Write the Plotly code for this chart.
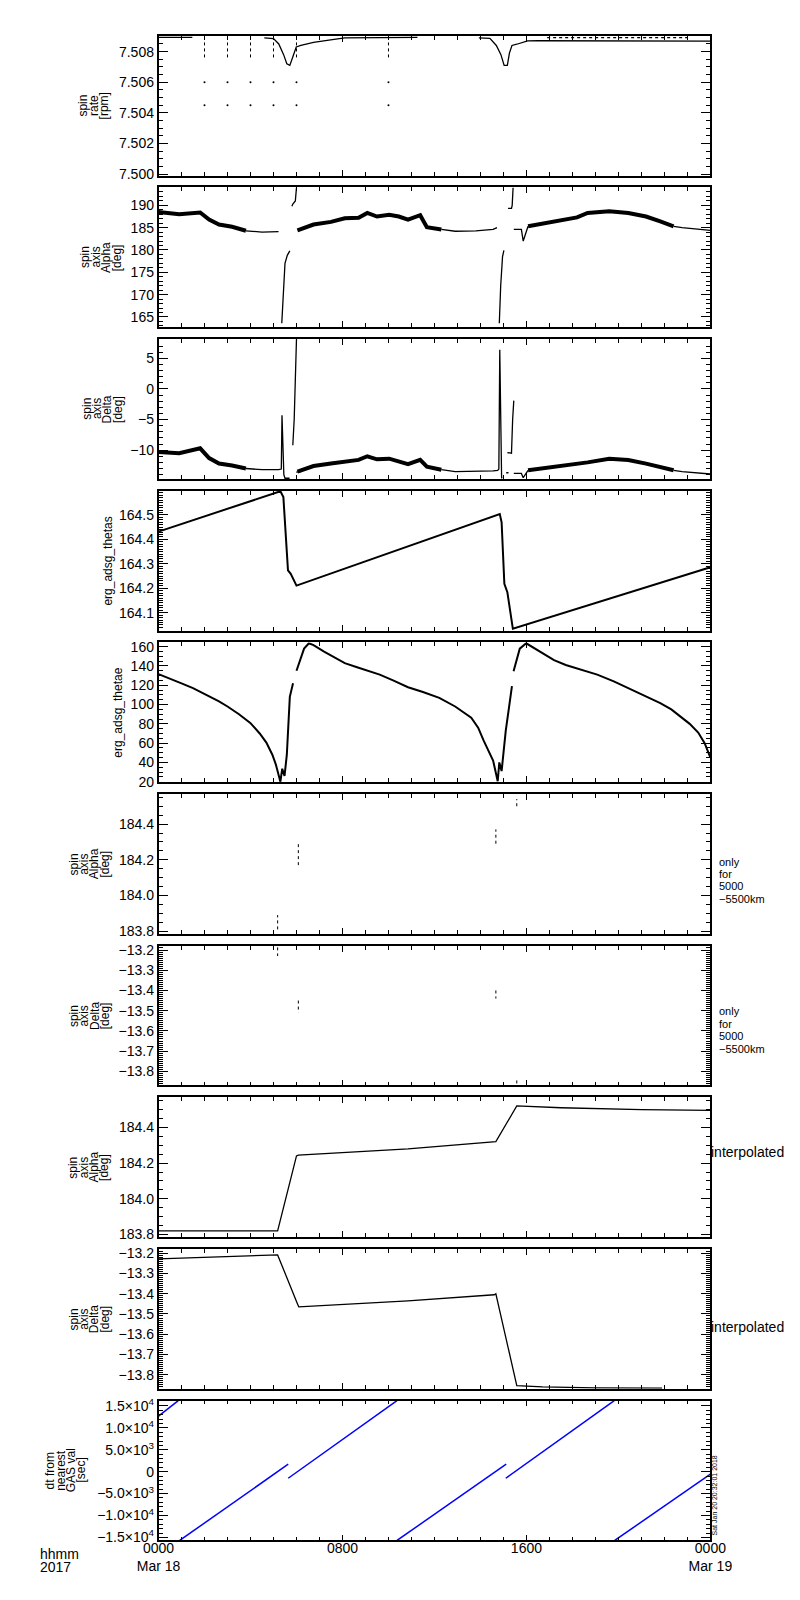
import plotly.graph_objects as go
from plotly.subplots import make_subplots

FONT = "Liberation Sans"
W, H = 800, 1600
LEFT, RIGHT = 136, 720
TOP0, PANEL_H, GAP = 23, 140.8, 12

# ---- data (time in hours since 2017-03-18 00:00 UT) ----

# spin rate [rpm]
rate_h = [0, 1.47, None, 4.6, 5.0, 5.23, 5.44, 5.58, 5.71, 5.85, 5.99, 6.19, 6.74, 7.56, 8.1, 11.26,
          None, 13.93, 14.41, 14.69, 14.89, 15.03, 15.17, 15.26, 15.37, 15.58, 15.85, 16.05, 16.5, 24]
rate_v = [7.50893, 7.50893, None, 7.50890, 7.50885, 7.50850, 7.50780, 7.50720, 7.50710, 7.50770,
          7.50830, 7.50840, 7.50860, 7.50878, 7.50890, 7.50893, None, 7.50890, 7.50886, 7.50840,
          7.50780, 7.50710, 7.50710, 7.50790, 7.50840, 7.50848, 7.50860, 7.50870, 7.50871, 7.50868]
rate_upper_h = [16.9, 23.0]
rate_upper_v = [7.50891, 7.50891]
spike_h = [2, 3, 4, 5, 6, 10]
spike_top = 7.5086
spike_bot = 7.5075
spike_dots = [7.5060, 7.5045]

# spin axis Alpha [deg]
alpha_band_h = [0, 0.9, 1.81, 2.2, 2.63, 3.2, 3.8, None,
                6.04, 6.74, 7.5, 8.1, 8.7, 9.08, 9.5, 10.03, 10.45, 10.85, 11.38, 11.67, 12.3, None,
                16.07, 16.9, 17.71, 18.2, 18.66, 19.6, 20.43, 21.2, 21.82, 22.4]
alpha_band_v = [188.5, 188.0, 188.4, 186.8, 185.7, 185.2, 184.3, None,
                184.4, 185.7, 186.3, 187.1, 187.2, 188.3, 187.5, 187.9, 187.5, 186.8, 187.8, 185.1, 184.6, None,
                185.3, 186.0, 186.9, 187.3, 188.3, 188.7, 188.3, 187.5, 186.4, 185.3]
alpha_line_h = [3.8, 4.5, 5.22, None, 5.36, 5.42, 5.5, 5.6, 5.71, None, 5.8, 5.84, 5.95, 6.0, None,
                12.3, 12.9, 13.8, 14.55, 14.72, None, 14.82, 14.88, 14.96, 15.02, None,
                15.2, 15.35, 15.38, 15.42, None, 15.45, 15.78, 15.86, 16.07, None, 22.4, 22.77, 24]
alpha_line_v = [184.3, 184.0, 184.1, None, 163.6, 170, 177, 178.8, 179.8, None, 189.8, 190.3, 191, 194, None,
                184.6, 184.2, 184.3, 184.6, 185.0, None, 163.6, 172, 178.5, 179.9, None,
                189.3, 189.3, 190.0, 194, None, 184.6, 184.6, 182.0, 185.3, None, 185.3, 185.0, 184.4]

# spin axis Delta [deg]
delta_band_h = alpha_band_h
delta_band_v = [-10.3, -10.5, -9.7, -11.3, -12.2, -12.5, -13.0, None,
                -13.5, -12.6, -12.2, -11.9, -11.6, -11.0, -11.5, -11.4, -11.9, -12.3, -11.6, -12.7, -13.2, None,
                -13.3, -12.9, -12.5, -12.2, -12.0, -11.4, -11.6, -12.2, -12.7, -13.3]
delta_line_h = [3.8, 4.5, 5.22, 5.34, 5.37, 5.45, 5.5, 5.7, None, 5.84, 5.9, 6.0, None, 5.99, 6.2, None,
                12.3, 12.9, 14.55, 14.75, 14.8, 14.84, 14.92, 14.95, None, 15.12, 15.22, None,
                15.17, 15.35, 15.4, 15.45, None, 15.45, 15.78, 15.86, 16.07, None, 22.4, 22.77, 24]
delta_line_v = [-13.0, -13.2, -13.2, -13.1, -4.3, -14.0, -14.6, -14.6, None, -9.2, -5, 8.2, None, -13.6, -13.5, None,
                -13.2, -13.5, -13.4, -13.3, -13.1, 6.4, -14.5, -14.6, None, -13.7, -13.7, None,
                -10.4, -10.5, -5, -1.9, None, -13.8, -13.8, -14.5, -13.3, None, -13.3, -13.5, -13.9]

# erg_adsg_thetas
thetas_h = [0, 5.3, 5.43, 5.63, 5.75, 5.84, 6.0, 14.84, 14.92, 15.04, 15.17, 15.41, 24]
thetas_v = [164.432, 164.597, 164.573, 164.273, 164.259, 164.239, 164.211, 164.504, 164.47,
            164.218, 164.184, 164.034, 164.286]

# erg_adsg_thetae
thetae_h = [0, 0.5, 1.0, 1.5, 2.0, 2.63, 3.0, 3.5, 3.99, 4.4, 4.69, 4.95, 5.1, 5.2, 5.3, 5.38, 5.48, 5.58,
            5.71, 5.85, None,
            6.0, 6.2, 6.33, 6.54, 6.74, 7.2, 7.6, 8.1, 8.6, 9.1, 9.62, 10.2, 10.85, 11.5, 12.21, 12.9,
            13.6, 13.9, 14.14, 14.55, 14.75, 14.82, 14.92, 15.1, 15.37, None,
            15.44, 15.71, 15.99, 16.3, 16.8, 17.2, 17.71, 18.4, 19.08, 19.8, 20.43, 21.1, 21.82, 22.3,
            22.77, 23.1, 23.47, 23.75, 24]
thetae_v = [131.5, 127, 122, 117, 111, 103.4, 98, 90, 81, 70, 60.5, 48, 38, 30, 20, 33.5, 26, 48,
            108, 122, None,
            135, 150, 158, 163.6, 161.6, 155, 150, 143, 139, 135, 131, 125, 118, 113, 107, 98,
            86.4, 76, 62.5, 42, 20.5, 40, 31, 72.6, 119, None,
            134.5, 158, 163.5, 159, 151, 146, 141, 136, 131, 124, 117, 109.5, 101.5, 95,
            86.4, 80, 71, 60, 45]

# spin axis only for 5000-5500 km
only_h = [5.18, 5.18, None, 6.08, 6.08, None, 14.67, 14.67, None, 15.58, 15.58]
only_alpha = [183.81, 183.89, None, 184.17, 184.29, None, 184.29, 184.37, None, 184.50, 184.54]
only_delta = [-13.187, -13.23, None, -13.45, -13.51, None, -13.40, -13.44, None, -13.845, -13.87]

# interpolated spin axis
interp_alpha_h = [0, 5.18, 6.0, 6.08, 10.85, 14.67, 15.58, 17.5, 21.0, 24]
interp_alpha_v = [183.82, 183.82, 184.24, 184.245, 184.28, 184.32, 184.52, 184.51, 184.50, 184.495]
interp_delta_h = [0, 5.18, 6.04, 6.1, 10.85, 14.6, 14.67, 15.58, 16.7, 19.0, 21.9]
interp_delta_v = [-13.228, -13.208, -13.449, -13.465, -13.435, -13.405, -13.40, -13.854, -13.86, -13.865, -13.867]

# dt from nearest GAS value [sec]
dt_h = [0, 0.86, None, 0.92, 5.64, None, 5.64, 10.37, None, 10.37, 15.12, None, 15.1, 19.82, None, 19.84, 24]
dt_v = [12700, 16200, None, -15700, 1700, None, -1500, 16200, None, -15700, 1700, None, -1500, 16200, None, -15700, -540]

x_tickvals = [0, 8, 16, 24]
x_ticktext = ["0000<br>Mar 18", "0800", "1600", "0000<br>Mar 19"]
dt_tickvals = [-15000, -10000, -5000, 0, 5000, 10000, 15000]
dt_ticktext = ["−1.5×10<sup>4</sup>", "−1.0×10<sup>4</sup>", "−5.0×10<sup>3</sup>", "0",
               "5.0×10<sup>3</sup>", "1.0×10<sup>4</sup>", "1.5×10<sup>4</sup>"]

# ---- figure ----
fig = make_subplots(rows=10, cols=1, shared_xaxes=True)


def line(r, x, y, width=1.3, color="black", dash="solid"):
    fig.add_trace(go.Scatter(x=x, y=y, mode="lines", line=dict(color=color, width=width, dash=dash),
                             connectgaps=False, hoverinfo="skip"), row=r, col=1)


line(1, rate_h, rate_v)
line(1, rate_upper_h, rate_upper_v, dash="dot")
sx, sy = [], []
for h in spike_h:
    sx += [h, h, None]
    sy += [spike_top, spike_bot, None]
line(1, sx, sy, width=1, dash="dot")
fig.add_trace(go.Scatter(x=[h for h in spike_h for _ in spike_dots], y=spike_dots * len(spike_h),
                         mode="markers", marker=dict(color="black", size=2), hoverinfo="skip"), row=1, col=1)

line(2, alpha_band_h, alpha_band_v, width=4)
line(2, alpha_line_h, alpha_line_v, width=1.3)
line(3, delta_band_h, delta_band_v, width=4)
line(3, delta_line_h, delta_line_v, width=1.3)
line(4, thetas_h, thetas_v, width=2)
line(5, thetae_h, thetae_v, width=2)
line(6, only_h, only_alpha, width=1, dash="dot")
line(7, only_h, only_delta, width=1, dash="dot")
line(8, interp_alpha_h, interp_alpha_v)
line(9, interp_delta_h, interp_delta_v)
line(10, dt_h, dt_v, width=1.5, color="blue")

# y axes: range, tick0, dtick, minor dtick, format
y_axes = [
    ([7.4999, 7.50903], 7.5, 0.002, 0.0005, ".3f"),
    ([162.7, 194.0], 0, 5, 1, "d"),
    ([-14.7, 8.15], 0, 5, 1, "d"),
    ([164.027, 164.599], 164.1, 0.1, 0.01, ".1f"),
    ([19.5, 164.4], 0, 20, 5, "d"),
    ([183.785, 184.568], 183.8, 0.2, 0.05, ".1f"),
    ([-13.87, -13.179], -13.8, 0.1, 0.01, ".1f"),
    ([183.785, 184.568], 183.8, 0.2, 0.05, ".1f"),
    ([-13.87, -13.179], -13.8, 0.1, 0.01, ".1f"),
    ([-15700, 16200], 0, 5000, 1000, None),
]

axis_style = dict(showline=True, linecolor="black", linewidth=1.5, mirror="allticks",
                  ticks="inside", tickcolor="black", tickwidth=1, showgrid=False, zeroline=False,
                  tickfont=dict(family=FONT, size=14, color="black"))

for i, (rng, t0, dt, mdt, fmt) in enumerate(y_axes):
    r = i + 1
    top = TOP0 + i * (PANEL_H + GAP)
    bottom = top + PANEL_H
    kw = dict(range=rng, domain=[1 - bottom / H, 1 - top / H], ticklen=10,
              minor=dict(ticks="inside", ticklen=5, tick0=t0, dtick=mdt, tickcolor="black", showgrid=False))
    if fmt is None:
        kw.update(tickmode="array", tickvals=dt_tickvals, ticktext=dt_ticktext)
    else:
        kw.update(tickmode="linear", tick0=t0, dtick=dt, tickformat=fmt)
    fig.update_yaxes(row=r, col=1, **axis_style, **kw)

fig.update_xaxes(range=[0, 24], domain=[LEFT / W, RIGHT / W], tickmode="array",
                 tickvals=x_tickvals, ticktext=x_ticktext, ticklen=6, ticklabelstandoff=-6,
                 minor=dict(ticks="inside", ticklen=4, tick0=0, dtick=1, tickcolor="black", showgrid=False),
                 **axis_style)


def stack(lines, x0, y0, dx=0.0, dy=0.0, angle=0, size=12, anchor="center"):
    for k, s in enumerate(lines):
        fig.add_annotation(text=s, x=(x0 + k * dx) / W, y=1 - (y0 + k * dy) / H, xref="paper", yref="paper",
                           showarrow=False, textangle=angle, xanchor=anchor, yanchor="middle",
                           font=dict(family=FONT, size=size, color="black"))


titles = [["spin", "rate", "[rpm]"], ["spin", "axis", "Alpha", "[deg]"], ["spin", "axis", "Delta", "[deg]"],
          ["erg_adsg_thetas"], ["erg_adsg_thetae"], ["spin", "axis", "Alpha", "[deg]"],
          ["spin", "axis", "Delta", "[deg]"], ["spin", "axis", "Alpha", "[deg]"],
          ["spin", "axis", "Delta", "[deg]"], ["dt from", "nearest", "GAS val", "[sec]"]]
title_x = [78, 92, 93, 82.5, 93.5, 79, 79, 79, 79, 54]
for i, t in enumerate(titles):
    yc = TOP0 + i * (PANEL_H + GAP) + PANEL_H / 2
    n = len(t)
    stack(t, title_x[i] - (n - 1) * 11, yc, dx=11, angle=-90, size=12)

note = ["only", "for", "5000", "−5500km"]
stack(note, 727, 855, dy=12.5, size=11, anchor="left")
stack(note, 727, 1006, dy=12.5, size=11, anchor="left")
stack(["interpolated"], 719, 1148, size=14, anchor="left")
stack(["interpolated"], 719, 1324, size=14, anchor="left")
stack(["hhmm", "2017"], 8, 1553, dy=12.5, size=14, anchor="left")
stack(["Sat Jan 20 20:32:01 2018"], 724.5, 1494, angle=-90, size=7)

fig.update_layout(width=W, height=H, margin=dict(l=0, r=0, t=0, b=0), showlegend=False,
                  paper_bgcolor="white", plot_bgcolor="white")

fig.write_html("out.html")
